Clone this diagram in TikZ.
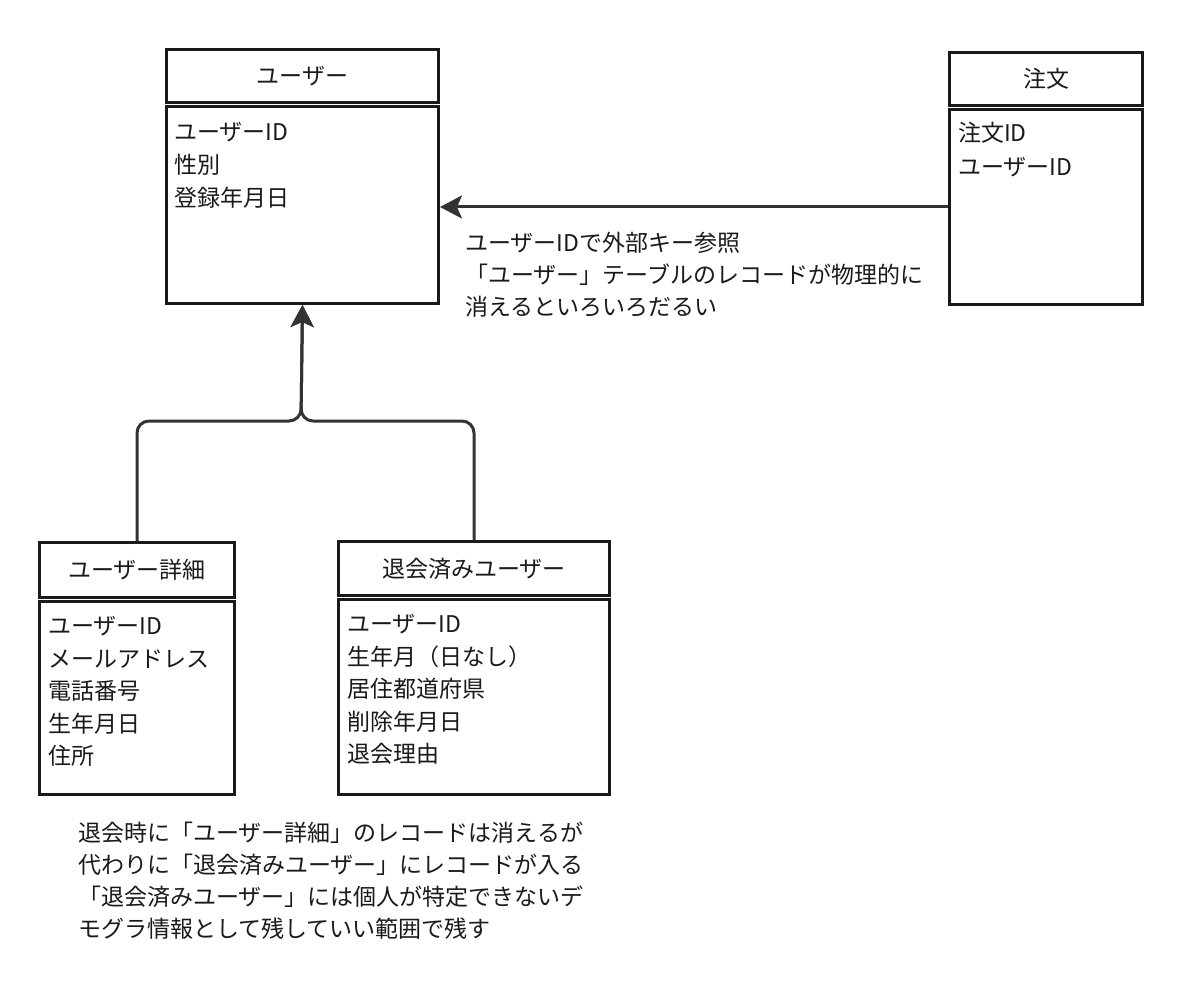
\documentclass[tikz,border=0pt]{standalone}
\usepackage{fontspec}
\setmainfont{Noto Sans CJK JP}
\usetikzlibrary{arrows.meta}
\definecolor{boxline}{HTML}{1A1A1A}
\definecolor{connline}{HTML}{333333}
\definecolor{ink}{HTML}{1A1A1A}
\tikzset{
  ebox/.style={draw=boxline, line width=3pt, anchor=north west, inner sep=0pt, fill=white,
    font=\fontsize{23}{33}\selectfont, text=ink},
  rowtext/.style={anchor=west, inner sep=0pt, text height=17pt, text depth=3pt, yshift=-2.5pt,
    font=\fontsize{23}{33}\selectfont, text=ink},
  conn/.style={draw=connline, line width=3pt},
  tip/.style={-{Stealth[length=22pt, width=23pt, inset=5pt]}},
}
\begin{document}
\begin{tikzpicture}[x=1pt,y=-1pt]
\useasboundingbox[fill=white] (0,0) rectangle (1200,987);

% ユーザー
\node[ebox, minimum width=272pt, minimum height=53pt] (uh) at (165,48) {ユーザー};
\node[ebox, minimum width=272pt, minimum height=197pt] (ub) at (165,105) {};
\foreach \t [count=\i] in {ユーザーID,性別,登録年月日}
  \node[rowtext] (ur\i) at ({174},{131+33*(\i-1)}) {\t};

% 注文
\node[ebox, minimum width=193pt, minimum height=53pt] (oh) at (948,51) {注文};
\node[ebox, minimum width=193pt, minimum height=195pt] (ob) at (948,108) {};
\foreach \t [count=\i] in {注文ID,ユーザーID}
  \node[rowtext] (or\i) at ({958},{132+34*(\i-1)}) {\t};

% ユーザー詳細
\node[ebox, minimum width=195pt, minimum height=55pt] (dh) at (38,541) {ユーザー詳細};
\node[ebox, minimum width=195pt, minimum height=193pt] (db) at (38,600) {};
\foreach \t [count=\i] in {ユーザーID,メールアドレス,電話番号,生年月日,住所}
  \node[rowtext] (dr\i) at ({48},{625+32.5*(\i-1)}) {\t};

% 退会済みユーザー
\node[ebox, minimum width=271pt, minimum height=54pt] (wh) at (337,540) {退会済みユーザー};
\node[ebox, minimum width=271pt, minimum height=195pt] (wb) at (337,598) {};
\foreach \t [count=\i] in {ユーザーID,生年月（日なし）,居住都道府県,削除年月日,退会理由}
  \node[rowtext] (wr\i) at ({347},{623+32.5*(\i-1)}) {\t};

% foreign key arrow
\draw[conn, tip] (ob.west) -- (ub.east |- ob.west);
\foreach \t [count=\i] in {ユーザーIDで外部キー参照,「ユーザー」テーブルのレコードが物理的に,消えるといろいろだるい}
  \node[rowtext] (fk\i) at ({465},{242+32*(\i-1)}) {\t};

% inheritance
\coordinate (j) at (301,421);
\draw[conn, tip, rounded corners=12pt] (dh.north) |- (j) -- (ub.south);
\draw[conn, tip, rounded corners=12pt] (wh.north) |- (j) -- (ub.south);

% note
\foreach \t [count=\i] in {退会時に「ユーザー詳細」のレコードは消えるが,代わりに「退会済みユーザー」にレコードが入る,「退会済みユーザー」には個人が特定できないデ,モグラ情報として残していい範囲で残す}
  \node[rowtext] (n\i) at ({78},{832+32*(\i-1)}) {\t};
\end{tikzpicture}
\end{document}
